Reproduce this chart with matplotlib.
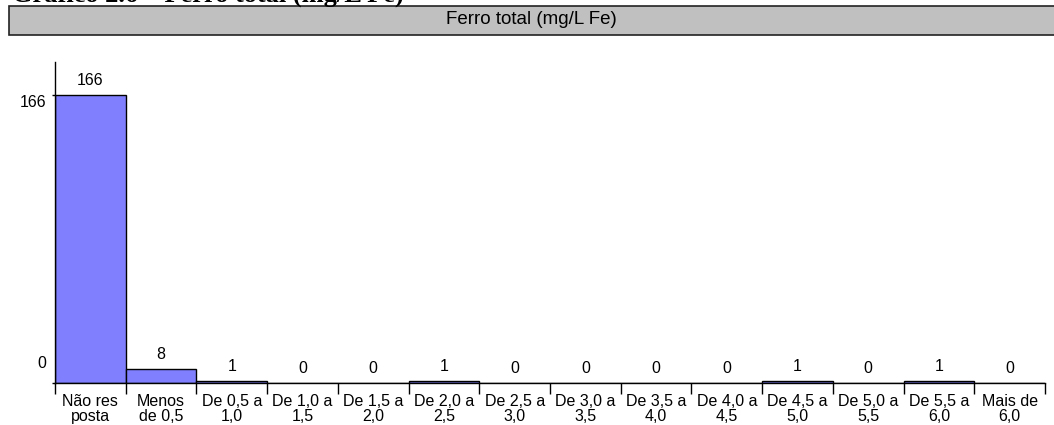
import matplotlib
matplotlib.use("Agg")
import matplotlib.pyplot as plt
import matplotlib.transforms as mtransforms
from matplotlib.patches import Rectangle
import numpy as np

plt.rcParams['font.family'] = ['Liberation Sans', 'DejaVu Sans']

# dados
categorias = ["Não res\nposta", "Menos\nde 0,5", "De 0,5 a\n1,0", "De 1,0 a\n1,5",
              "De 1,5 a\n2,0", "De 2,0 a\n2,5", "De 2,5 a\n3,0", "De 3,0 a\n3,5",
              "De 3,5 a\n4,0", "De 4,0 a\n4,5", "De 4,5 a\n5,0", "De 5,0 a\n5,5",
              "De 5,5 a\n6,0", "Mais de\n6,0"]
valores = [166, 8, 1, 0, 0, 1, 0, 0, 0, 0, 1, 0, 1, 0]
y_ticks = [0, 166]
titulo = "Gráfico 2.6 – Ferro total (mg/L Fe)"
cabecalho = "Ferro total (mg/L Fe)"

fig = plt.figure(figsize=(10.54, 4.25), dpi=100)

# titulo cortado no topo (como na imagem original)
fig.text(12 / 1054, 1 - 2 / 425, titulo, family='Liberation Serif', weight='bold',
         fontsize=19, va='baseline', ha='left')

# faixa cinza do cabecalho
fig.patches.append(Rectangle((9 / 1054, 1 - 35 / 425), 1.0, 29 / 425,
                             transform=fig.transFigure, facecolor='#c0c0c0',
                             edgecolor='#222222', linewidth=1.2))
fig.text(531 / 1054, 1 - 20 / 425, cabecalho, fontsize=13.5, ha='center', va='center')

ax = fig.add_axes([55 / 1054, 42 / 425, (1045 - 55) / 1054, (383 - 62) / 425])
x = np.arange(len(valores))
ax.bar(x, valores, width=1.0, color='#8080ff', edgecolor='black', linewidth=1.0)

for xi, v in zip(x, valores):
    ax.annotate(str(v), (xi, v), xytext=(0, 5), textcoords='offset points',
                ha='center', va='bottom', fontsize=11.5)

ax.set_xlim(-0.5, len(valores) - 0.5)
ax.set_ylim(0, 185)

ax.set_xticks(x)
ax.set_xticklabels(categorias, fontsize=11.5, linespacing=1.0)
ax.set_xticks(np.arange(len(valores) + 1) - 0.5, minor=True)
ax.tick_params(axis='x', which='major', length=0, pad=8)
ax.tick_params(axis='x', which='minor', length=8, width=1.0, direction='out')

ax.set_yticks(y_ticks)
ax.set_yticklabels([str(t) for t in y_ticks], fontsize=11.5)
ax.tick_params(axis='y', length=2, width=1.0, pad=4)
labs = ax.get_yticklabels()
labs[0].set_va('bottom')
labs[0].set_transform(labs[0].get_transform() +
                      mtransforms.ScaledTranslation(0, 9 / 72, fig.dpi_scale_trans))
labs[-1].set_va('top')

for s in ['top', 'right']:
    ax.spines[s].set_visible(False)
ax.spines['left'].set_linewidth(1.0)
ax.spines['bottom'].set_linewidth(1.0)

fig.savefig("out.png", dpi=100)
